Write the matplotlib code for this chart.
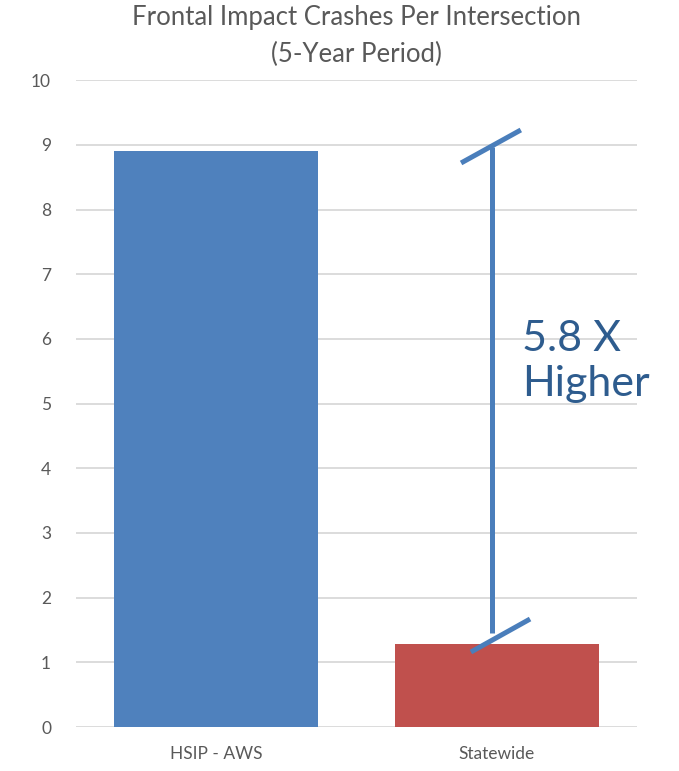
import matplotlib.pyplot as plt

# chart data
categories = ["HSIP - AWS", "Statewide"]
crashes = [8.9, 1.28]
bar_colors = ["#4F81BD", "#C0504D"]
y_ticks = list(range(0, 11))
ratio_label = "5.8 X\nHigher"

plt.rcParams['font.family'] = ['Lato', 'DejaVu Sans']

fig = plt.figure(figsize=(6.79, 7.71), dpi=100)
ax = fig.add_axes([0.112, 0.057, 0.826, 0.839])

x = list(range(len(categories)))
ax.bar(x, crashes, width=0.727, color=bar_colors, zorder=2)

ax.set_xlim(-0.5, 1.5)
ax.set_ylim(0, 10)
ax.set_yticks(y_ticks)
ax.set_xticks(x)
ax.set_xticklabels(categories)
ax.grid(axis='y', color='#D9D9D9', linewidth=1.3, zorder=0)
ax.set_axisbelow(True)
for s in ax.spines.values():
    s.set_visible(False)
ax.tick_params(axis='both', length=0, colors='#595959', labelsize=12.5)
ax.tick_params(axis='y', pad=18)
ax.tick_params(axis='x', pad=14)

# bracket showing the difference
line_kw = dict(color='#4A7EBB', linewidth=3.6, solid_capstyle='butt', zorder=3, clip_on=False)
ax.plot([0.983, 0.983], [crashes[1] + 0.17, crashes[0] + 0.06], **line_kw)
ax.plot([0.873, 1.086], [8.72, 9.23], **line_kw)
ax.plot([0.908, 1.119], [1.16, 1.67], **line_kw)

ax.text(1.09, 5.65, ratio_label, color='#2E5C8E', fontsize=31, ha='left', va='center',
        linespacing=1.2, zorder=4)

fig.text(0.525, 0.993, "Frontal Impact Crashes Per Intersection\n(5-Year Period)",
         ha='center', va='top', color='#595959', fontsize=18.5, linespacing=1.55)

fig.savefig('out.png', dpi=100)
